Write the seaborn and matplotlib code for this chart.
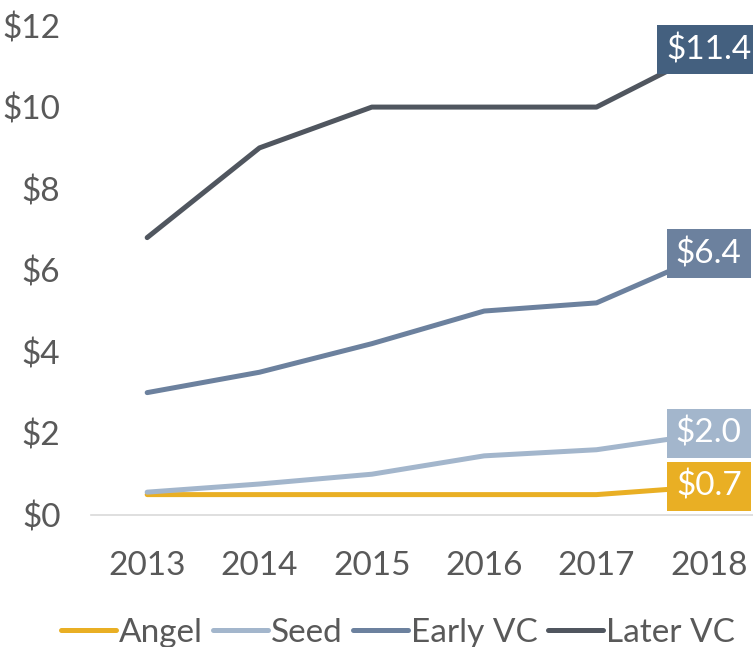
import pandas as pd
import matplotlib.pyplot as plt
import seaborn as sns

# values ($B)
years = [2013, 2014, 2015, 2016, 2017, 2018]
angel = [0.5, 0.5, 0.5, 0.5, 0.5, 0.7]
seed = [0.56, 0.76, 1.0, 1.45, 1.6, 2.0]
early_vc = [3.0, 3.5, 4.2, 5.0, 5.2, 6.4]
later_vc = [6.8, 9.0, 10.0, 10.0, 10.0, 11.4]

series = ["Angel", "Seed", "Early VC", "Later VC"]
line_colors = ["#E9AF24", "#A3B6CC", "#6C819E", "#50565F"]
box_colors = ["#E9AF24", "#A3B6CC", "#6C819E", "#44607F"]

df = pd.DataFrame({
    "Year": years * 4,
    "Value": angel + seed + early_vc + later_vc,
    "Stage": [s for s in series for _ in years],
})

sns.set_style("white")
plt.rcParams["font.family"] = ["Lato", "DejaVu Sans"]
text_color = "#595959"
fs = 24

fig = plt.figure(figsize=(7.53, 6.47), dpi=100)
ax = fig.add_axes([91 / 753, 132 / 647, 674 / 753, 489.5 / 647])

sns.lineplot(data=df, x="Year", y="Value", hue="Stage", hue_order=series,
             palette=line_colors, linewidth=3.6, solid_capstyle="round", ax=ax)

ax.set_xlim(2012.5, 2018.5)
ax.set_ylim(0, 12)
ax.set_xticks(years)
ax.set_yticks(range(0, 13, 2))
ax.set_yticklabels([f"${v}" for v in range(0, 13, 2)])
ax.set_xlabel("")
ax.set_ylabel("")
ax.tick_params(axis="both", length=0, labelsize=fs, colors=text_color)
ax.tick_params(axis="x", pad=26)
ax.tick_params(axis="y", pad=22)

for side in ["top", "right", "left"]:
    ax.spines[side].set_visible(False)
ax.spines["bottom"].set_color("#D9D9D9")
ax.spines["bottom"].set_linewidth(1.2)

# end-of-line value labels
ends = [angel[-1], seed[-1], early_vc[-1], later_vc[-1]]
for val, col in zip(ends, box_colors):
    ax.text(years[-1], val, f"${val:.1f}", ha="center", va="center",
            fontsize=fs, color="white", clip_on=False, zorder=5,
            bbox=dict(boxstyle="square,pad=0.27", fc=col, ec="none"))

sns.move_legend(ax, "center", bbox_to_anchor=((398 - 91) / 674, -(633 - 515) / 489.5),
                ncol=4, frameon=False, title=None, fontsize=fs,
                handlelength=1.65, handletextpad=0.1, columnspacing=0.3)
for t in ax.get_legend().get_texts():
    t.set_color(text_color)
for h in ax.get_legend().legend_handles:
    h.set_linewidth(3.6)
    h.set_solid_capstyle("round")

fig.savefig("out.png", dpi=100)
